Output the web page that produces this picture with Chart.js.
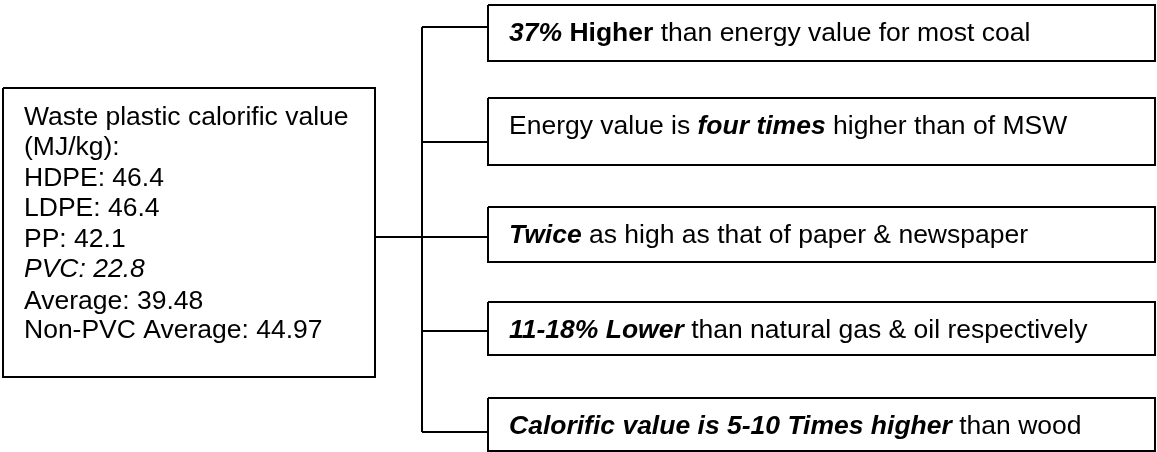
<!DOCTYPE html>
<html lang="en">

<head>
    <meta charset="UTF-8">
    <script src="https://cdn.jsdelivr.net/npm/chart.js@4.4.1/dist/chart.umd.min.js"></script>
    <title>Waste plastic calorific value</title>
    <style>
        body { margin: 0; background: #fff; }
        .box_chart { width: 1157px; height: 452px; }
    </style>
</head>

<body>
    <div class="box_chart">
        <canvas id="chartDiagram" width="1157" height="452"></canvas>
    </div>
</body>

</html>
<script>
    /* Dados */
    var titleLines = ['Waste plastic calorific value', '(MJ/kg):'];
    var plastics = ['HDPE', 'LDPE', 'PP', 'PVC'];
    var calorific = [46.4, 46.4, 42.1, 22.8];
    var averageLabels = ['Average', 'Non-PVC Average'];
    var averageValues = [39.48, 44.97];

    // each comparison: runs of [text, weight] -> 'bi' bold italic, 'b' bold, '' normal
    var comparisons = [
        [['37%', 'bi'], [' Higher', 'b'], [' than energy value for most coal', '']],
        [['Energy value is ', ''], ['four times', 'bi'], [' higher than of MSW', '']],
        [['Twice', 'bi'], [' as high as that of paper & newspaper', '']],
        [['11-18% Lower', 'bi'], [' than natural gas & oil respectively', '']],
        [['Calorific value is 5-10 Times higher', 'bi'], [' than wood', '']]
    ];

    /* Layout (pixel units of the scales) */
    var W = 1157, H = 452;
    var leftBox = { x1: 3, x2: 375, y1: 88, y2: 377 };
    var leftBaselines = [125, 155, 186, 216, 247, 277, 309, 338];
    var spineX = 422;
    var boxX1 = 488, boxX2 = 1155;
    var boxTops = [5, 98, 207, 302, 398];
    var boxBottoms = [61, 165, 262, 355, 451];
    var branchY = [27, 142, 237, 331, 432];
    var textBaselineOffset = 36;
    var fontSize = 26.5;
    var family = "'Liberation Sans', Arial, sans-serif";

    function rect(b) {
        return [{ x: b.x1, y: b.y1 }, { x: b.x2, y: b.y1 }, { x: b.x2, y: b.y2 }, { x: b.x1, y: b.y2 }, { x: b.x1, y: b.y1 }];
    }

    var datasets = [];
    function addLine(pts) {
        datasets.push({
            data: pts,
            showLine: true,
            borderColor: '#000',
            borderWidth: 2,
            pointRadius: 0,
            tension: 0,
            fill: false
        });
    }

    addLine(rect(leftBox));
    for (var i = 0; i < comparisons.length; i++) {
        addLine(rect({ x1: boxX1, x2: boxX2, y1: boxTops[i], y2: boxBottoms[i] }));
        addLine([{ x: spineX, y: branchY[i] }, { x: boxX1, y: branchY[i] }]);
    }
    // spine and link from the left box
    addLine([{ x: spineX, y: branchY[0] }, { x: spineX, y: branchY[branchY.length - 1] }]);
    addLine([{ x: leftBox.x2, y: branchY[2] }, { x: spineX, y: branchY[2] }]);

    var textPlugin = {
        id: 'diagramText',
        afterDatasetsDraw: function (chart) {
            var ctx = chart.ctx;
            var xs = chart.scales.x, ys = chart.scales.y;
            ctx.save();
            ctx.fillStyle = '#000';
            ctx.textBaseline = 'alphabetic';
            ctx.textAlign = 'left';

            // left box
            var lines = titleLines.map(function (t) { return [t, false]; });
            plastics.forEach(function (p, k) {
                lines.push([p + ': ' + calorific[k], p === 'PVC']);
            });
            averageLabels.forEach(function (a, k) {
                lines.push([a + ': ' + averageValues[k], false]);
            });
            var lx = xs.getPixelForValue(leftBox.x1 + 21);
            lines.forEach(function (l, k) {
                ctx.font = (l[1] ? 'italic ' : '') + fontSize + 'px ' + family;
                ctx.fillText(l[0], lx, ys.getPixelForValue(leftBaselines[k]));
            });

            // right boxes
            comparisons.forEach(function (runs, k) {
                var x = xs.getPixelForValue(boxX1 + 21);
                var y = ys.getPixelForValue(boxTops[k] + textBaselineOffset);
                runs.forEach(function (r) {
                    var f = '';
                    if (r[1] === 'bi') f = 'italic bold ';
                    if (r[1] === 'b') f = 'bold ';
                    ctx.font = f + fontSize + 'px ' + family;
                    ctx.fillText(r[0], x, y);
                    x += ctx.measureText(r[0]).width;
                });
            });
            ctx.restore();
        }
    };

    var ctx1 = chartDiagram.getContext('2d');
    var myChart = new Chart(ctx1, {
        type: 'scatter',
        data: { datasets: datasets },
        options: {
            responsive: false,
            animation: false,
            layout: { padding: 0 },
            plugins: { legend: { display: false }, tooltip: { enabled: false } },
            scales: {
                x: { type: 'linear', min: 0, max: W, display: false },
                y: { type: 'linear', min: 0, max: H, reverse: true, display: false }
            }
        },
        plugins: [textPlugin]
    });
</script>
